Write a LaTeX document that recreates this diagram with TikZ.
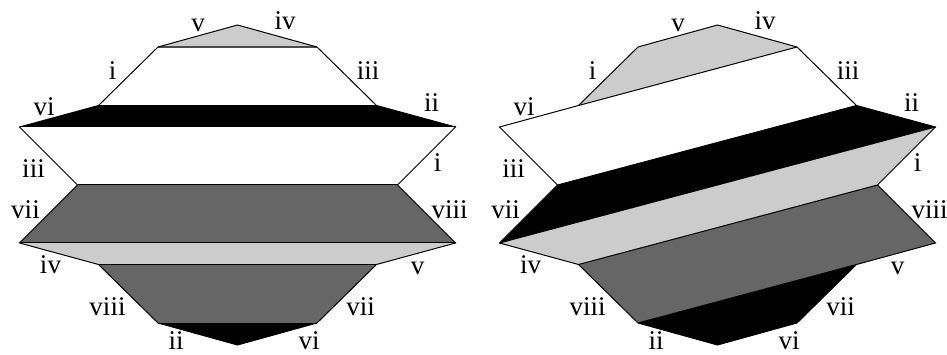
\documentclass[tikz,border=0pt]{standalone}
\usepackage{fontspec}
\setmainfont{Liberation Serif}
\definecolor{lgray}{gray}{0.8}
\definecolor{dgray}{gray}{0.4}
\begin{document}
\begin{tikzpicture}[x=1pt,y=-1pt,
  edge/.style={line width=1pt,line join=miter},
  stripe/.style={line width=1pt},
  lbl/.style={anchor=base,inner sep=0pt,font=\fontsize{27}{30}\selectfont}]
\useasboundingbox (0,0) rectangle (947,355);
% vertices of both figures
\foreach \f/\cx in {L/237.5,R/717.5}{
  \begin{scope}[shift={(\cx,185)}]
  \coordinate (\f1) at (0,-160);
  \coordinate (\f2) at (79.5,-138);
  \coordinate (\f3) at (139,-79.5);
  \coordinate (\f4) at (218,-58);
  \coordinate (\f5) at (160,0);
  \coordinate (\f6) at (218,58);
  \coordinate (\f7) at (139,79.5);
  \coordinate (\f8) at (79.5,138);
  \coordinate (\f9) at (0,160);
  \coordinate (\f10) at (-79.5,138);
  \coordinate (\f11) at (-139,79.5);
  \coordinate (\f12) at (-218,58);
  \coordinate (\f13) at (-160,0);
  \coordinate (\f14) at (-218,-58);
  \coordinate (\f15) at (-139,-79.5);
  \coordinate (\f16) at (-79.5,-138);
  \end{scope}
}
% left figure: horizontal bands
\fill[lgray] (L16)--(L1)--(L2)--cycle;
\fill[black] (L14)--(L15)--(L3)--(L4)--cycle;
\fill[dgray] (L12)--(L13)--(L5)--(L6)--cycle;
\fill[lgray] (L11)--(L12)--(L6)--(L7)--cycle;
\fill[dgray] (L10)--(L11)--(L7)--(L8)--cycle;
\fill[black] (L9)--(L10)--(L8)--cycle;
\draw[line width=1.6pt,gray!60!black] (L16)--(L2);
\draw[stripe] (L15)--(L3) (L14)--(L4) (L13)--(L5) (L12)--(L6) (L11)--(L7) (L10)--(L8);
% right figure: slanted bands
\fill[lgray] (R15)--(R16)--(R1)--(R2)--cycle;
\fill[black] (R13)--(R3)--(R4)--(R12)--cycle;
\fill[lgray] (R12)--(R4)--(R5)--(R11)--cycle;
\fill[dgray] (R11)--(R5)--(R6)--(R7)--(R10)--cycle;
\fill[black] (R10)--(R7)--(R8)--(R9)--cycle;
\draw[stripe] (R15)--(R2) (R13)--(R3) (R12)--(R4) (R11)--(R5) (R10)--(R7);
% outlines and labels
\foreach \f/\cx in {L/237.5,R/717.5}{
  \draw[edge] (\f1)--(\f2)--(\f3)--(\f4)--(\f5)--(\f6)--(\f7)--(\f8)--(\f9)
    --(\f10)--(\f11)--(\f12)--(\f13)--(\f14)--(\f15)--(\f16)--cycle;
  \begin{scope}[shift={(\cx,185)}]
  \node[lbl] (\f-a) at (-39.5,-153.5) {v};
  \node[lbl] (\f-b) at (47.5,-155) {iv};
  \node[lbl] (\f-c) at (-125,-105) {i};
  \node[lbl] (\f-d) at (130.5,-105) {iii};
  \node[lbl] (\f-e) at (-193.5,-69) {vi};
  \node[lbl] (\f-f) at (194,-73.5) {ii};
  \node[lbl] (\f-g) at (-204,-7) {iii};
  \node[lbl] (\f-h) at (200,-13.5) {i};
  \node[lbl] (\f-i) at (-212,34) {vii};
  \node[lbl] (\f-j) at (212,34) {viii};
  \node[lbl] (\f-k) at (-187,88.5) {iv};
  \node[lbl] (\f-l) at (180,90) {v};
  \node[lbl] (\f-m) at (-130,130) {viii};
  \node[lbl] (\f-n) at (123,130) {vii};
  \node[lbl] (\f-o) at (-61.5,164.5) {ii};
  \node[lbl] (\f-p) at (71.5,164.5) {vi};
  \end{scope}
}
\end{tikzpicture}
\end{document}
